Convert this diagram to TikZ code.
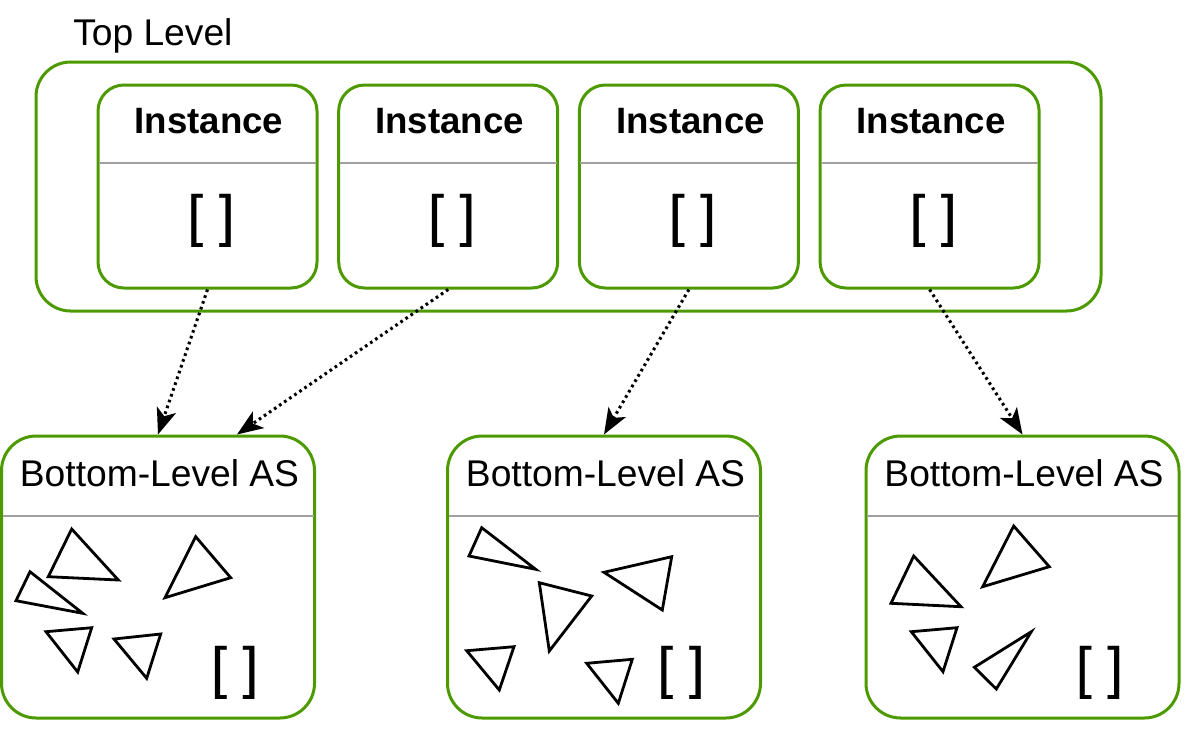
\documentclass[tikz,border=0pt]{standalone}
\usepackage{fontspec}
\setmainfont{Liberation Sans}
\newfontfamily\brackfont[FakeBold=0.6]{Liberation Sans}
\usetikzlibrary{arrows.meta,calc}
\definecolor{boxgreen}{HTML}{4D9900}
\definecolor{divgray}{HTML}{A0A0A0}
\begin{document}
\begin{tikzpicture}[x=0.75pt,y=-0.75pt,
  box/.style={draw=boxgreen, line width=2.25pt, inner sep=0pt, fill=none},
  outerbox/.style={box, rounded corners=26pt, minimum width=798.75pt, minimum height=186.75pt},
  instbox/.style={box, rounded corners=19.5pt, minimum width=164.25pt, minimum height=152.25pt},
  blasbox/.style={box, rounded corners=26pt, minimum width=234.75pt, minimum height=211.5pt},
  divider/.style={draw=divgray, line width=1.6pt},
  lbl/.style={inner sep=0pt, font=\fontsize{27.9}{33}\selectfont},
  boldlbl/.style={inner sep=0pt, font=\fontsize{27.5}{33}\selectfont\bfseries},
  brack/.style={inner sep=0pt, font=\fontsize{42.5}{50}\brackfont},
  tri/.style={draw=black, line width=2.1pt, line join=miter},
  conn/.style={line width=2.3pt, dash pattern=on 2pt off 2.6pt,
    -{Stealth[length=19.5pt,width=15pt,inset=5pt]}}
]
\useasboundingbox (0,0) rectangle (1186,729);

% top level container
\node[outerbox] (outer) at (568.5,186.5) {};
\node[lbl, anchor=base west] (toplbl) at (73,45) {Top Level};

% instances
\foreach \n/\cx in {1/207.5,2/448.2,3/688.9,4/929.6} {
  \node[instbox] (i\n) at (\cx,186.5) {};
  \draw[divider] (\cx-108.5,163) -- (\cx+108.5,163);
  \node[boldlbl, anchor=base] (ih\n) at (\cx+1.5,133.3) {Instance};
  \node[brack, anchor=base] (ib\n) at (\cx+3.5,235) {[ ]};
}

% bottom-level acceleration structures
\foreach \n/\cx in {1/158,2/604,3/1022.5} {
  \node[blasbox] (b\n) at (\cx,577) {};
  \draw[divider] (\cx-155.5,516) -- (\cx+155.5,516);
  \node[lbl, anchor=base] (bh\n) at (\cx+1.5,486.7) {Bottom-Level AS};
}
\node[brack, anchor=base] (bb1) at (234.7,687) {[ ]};
\node[brack, anchor=base] (bb2) at (681,687) {[ ]};
\node[brack, anchor=base] (bb3) at (1099.5,687) {[ ]};

% triangles, box 1
\draw[tri] (71.7,529) -- (48.3,576.7) -- (118.3,580) -- cycle;
\draw[tri] (30,571.7) -- (16,600.7) -- (82.7,613.3) -- cycle;
\draw[tri] (195.7,536.7) -- (165,597.7) -- (230.7,577.7) -- cycle;
\draw[tri] (46,631.7) -- (91.7,627.7) -- (77.7,672) -- cycle;
\draw[tri] (114,639) -- (160.7,634) -- (146.7,678.3) -- cycle;
% triangles, box 2
\draw[tri] (481.7,527.7) -- (469,556) -- (535.7,569.3) -- cycle;
\draw[tri] (539.3,582.7) -- (591.7,596) -- (549.3,651) -- cycle;
\draw[tri] (671.7,556.7) -- (604,572.3) -- (662.3,610) -- cycle;
\draw[tri] (466.7,650.7) -- (514,646.7) -- (499.3,690) -- cycle;
\draw[tri] (586.7,663.3) -- (632.3,659.3) -- (618.3,703.3) -- cycle;
% triangles, box 3
\draw[tri] (1013.7,526) -- (982.7,586.7) -- (1049.3,566.7) -- cycle;
\draw[tri] (913.7,556) -- (891,603.3) -- (961,606.7) -- cycle;
\draw[tri] (911.3,631.7) -- (957,627.7) -- (943,671.7) -- cycle;
\draw[tri] (1031.3,631.7) -- (974.3,667.3) -- (996.3,689) -- cycle;

% connectors
\draw[conn] (i1.south) -- (b1.north);
\draw[conn] (i2.south) -- ($(b1.north)!0.5!(b1.north east)$);
\draw[conn] (i3.south) -- (b2.north);
\draw[conn] (i4.south) -- (b3.north);
\end{tikzpicture}
\end{document}
